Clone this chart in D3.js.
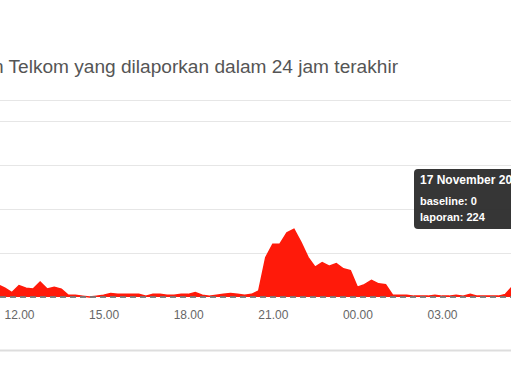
<!DOCTYPE html>
<html>
<head>
<meta charset="utf-8">
<script src="https://cdn.jsdelivr.net/npm/d3@7"></script>
<style>
  body { margin: 0; background: #fff; }
  svg { display: block; font-family: "Liberation Sans", Arial, sans-serif; }
</style>
</head>
<body>
<script>
// reports every 15 minutes, starting 16 Nov 11:15
var startTime = new Date(2023, 10, 16, 11, 15)
var laporan = [14, 10, 5, 13, 10, 9, 17, 9, 11, 9, 2, 2, 1, 0, 1,
  2, 4, 3, 3, 3, 3, 1, 3, 3, 2, 2, 3,
  3, 5, 2, 1, 2, 3, 4, 3, 2, 3, 7, 45,
  60, 60, 73, 77, 62, 45, 34, 39, 35, 38, 32, 30,
  11, 14, 19, 15, 14, 2, 2, 2, 1, 1, 1, 2,
  1, 1, 2, 1, 3, 1, 1, 1, 1, 3, 12]
var baseline = 0
var yTicks = [0, 50, 100, 150, 200]
var title = "n Telkom yang dilaporkan dalam 24 jam terakhir"
var tooltipLines = ["17 November 20", "baseline: 0", "laporan: 224"]

var width = 511, height = 390

var data = laporan.map(function(v, i){
  return { t: d3.timeMinute.offset(startTime, i * 15), v: v }
})

var svg = d3.select("body").append("svg")
  .attr("width", width)
  .attr("height", height)

// title (left part is outside the crop)
svg.append("text")
  .attr("x", 398)
  .attr("y", 73)
  .attr("text-anchor", "end")
  .attr("font-size", 19.1)
  .attr("fill", "#555")
  .text(title)

// top rule
svg.append("line")
  .attr("x1", 0).attr("x2", width)
  .attr("y1", 100.5).attr("y2", 100.5)
  .attr("stroke", "#e6e6e6")

var x = d3.scaleTime()
  .domain([data[0].t, data[data.length - 1].t])
  .range([-2.15, 512.5])
var y = d3.scaleLinear()
  .domain([0, 200])
  .range([297, 121])

// gridlines
svg.append("g").selectAll("line").data(yTicks.slice(1)).enter().append("line")
  .attr("x1", 0).attr("x2", width)
  .attr("y1", function(d){ return Math.round(y(d)) + 0.5 })
  .attr("y2", function(d){ return Math.round(y(d)) + 0.5 })
  .attr("stroke", "#e6e6e6")

// report area
var area = d3.area()
  .x(function(d){ return x(d.t) })
  .y0(y(0))
  .y1(function(d){ return y(d.v) })
svg.append("path")
  .datum(data)
  .attr("d", area)
  .attr("fill", "#ff1a0a")
svg.append("path")
  .datum(data)
  .attr("d", d3.line().x(function(d){ return x(d.t) }).y(function(d){ return y(d.v) }))
  .attr("fill", "none")
  .attr("stroke", "#ff1a0a")
  .attr("stroke-width", 1.5)

// baseline, dashed
svg.append("line")
  .attr("x1", 0).attr("x2", width)
  .attr("y1", y(baseline)).attr("y2", y(baseline))
  .attr("stroke", "#777")
  .attr("stroke-width", 2)
  .attr("stroke-dasharray", "6,4")
  .attr("opacity", 0.9)

// x axis labels
var xAxis = d3.axisBottom(x)
  .ticks(d3.timeHour.every(3))
  .tickFormat(d3.timeFormat("%H.%M"))
  .tickSize(0)
  .tickPadding(0)
var gx = svg.append("g")
  .attr("transform", "translate(0,310)")
  .call(xAxis)
gx.select(".domain").remove()
gx.selectAll("text")
  .attr("font-size", 12)
  .attr("fill", "#666")
  .attr("font-family", "Liberation Sans, Arial, sans-serif")

// bottom rule
svg.append("line")
  .attr("x1", 0).attr("x2", width)
  .attr("y1", 350.5).attr("y2", 350.5)
  .attr("stroke", "#ddd")
  .attr("stroke-width", 2)

// tooltip
var tip = svg.append("g").attr("transform", "translate(414,169)")
tip.append("rect")
  .attr("width", 140).attr("height", 60)
  .attr("rx", 4)
  .attr("fill", "#2b2b2b")
  .attr("opacity", 0.95)
tip.selectAll("text").data(tooltipLines).enter().append("text")
  .attr("x", 6)
  .attr("y", function(d, i){ return i == 0 ? 15 : 36 + (i - 1) * 16 })
  .attr("font-size", function(d, i){ return i == 0 ? 12 : 11 })
  .attr("font-weight", "bold")
  .attr("fill", "#fff")
  .text(function(d){ return d })
</script>
</body>
</html>
